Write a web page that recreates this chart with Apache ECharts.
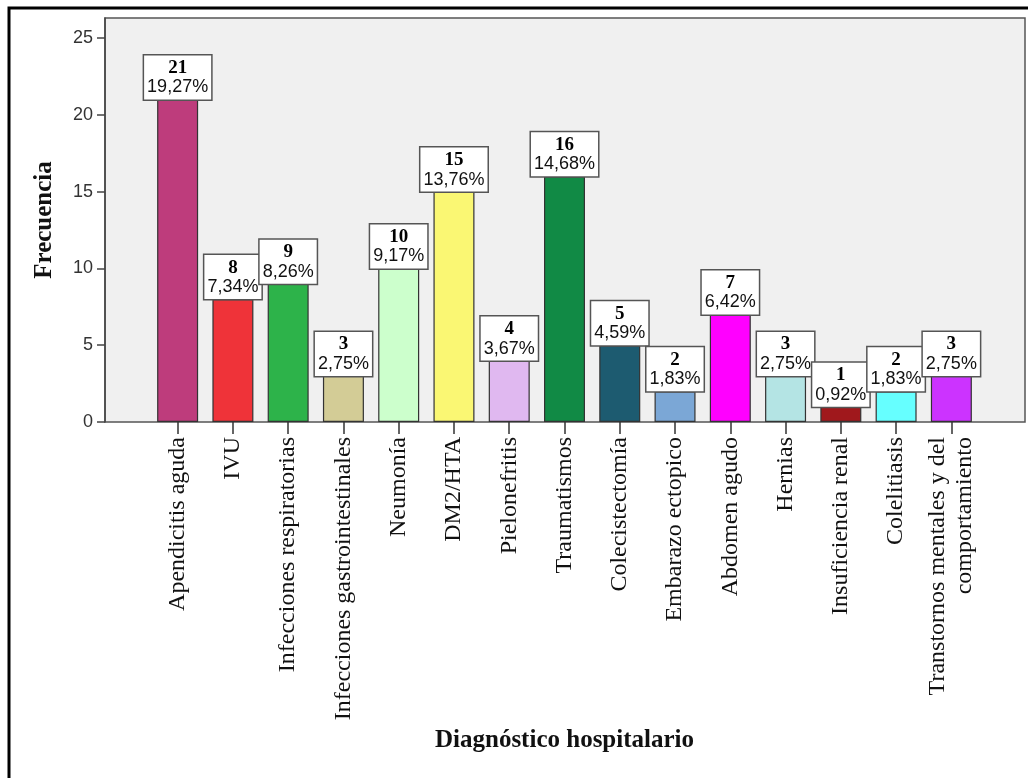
<!DOCTYPE html>
<html lang="es" style="height: 100%">
<head>
    <meta charset="UTF-8">
    <title>Diagnóstico hospitalario</title>
    <script src="https://cdn.jsdelivr.net/npm/echarts@6/dist/echarts.min.js"></script>
</head>
<body style="height: 100%; margin: 0; background: #fff">
<div id="main" style="width: 1028px; height: 778px"></div>
<script>
    var diagnosticos = ['Apendicitis aguda', 'IVU', 'Infecciones respiratorias', 'Infecciones gastrointestinales',
        'Neumonía', 'DM2/HTA', 'Pielonefritis', 'Traumatismos', 'Colecistectomía', 'Embarazo ectopico',
        'Abdomen agudo', 'Hernias', 'Insuficiencia renal', 'Colelitiasis', 'Transtornos mentales y del\ncomportamiento'];
    var frecuencia = [21, 8, 9, 3, 10, 15, 4, 16, 5, 2, 7, 3, 1, 2, 3];
    var porcentaje = ['19,27%', '7,34%', '8,26%', '2,75%', '9,17%', '13,76%', '3,67%', '14,68%',
        '4,59%', '1,83%', '6,42%', '2,75%', '0,92%', '1,83%', '2,75%'];
    var colores = ['#BE3C7C', '#EF3339', '#2DB34A', '#D3CC96', '#CCFFCC', '#FAF773', '#E0B8F0', '#118A45',
        '#1D5B70', '#7BA7D6', '#FF00FF', '#B4E4E4', '#A0181C', '#66FFFF', '#CC33FF'];
    var yTicks = [0, 5, 10, 15, 20, 25];

    var barras = frecuencia.map(function (v, i) {
        return {value: v, itemStyle: {color: colores[i]}};
    });

    var option = {
        animation: false,
        graphic: [{
            type: 'rect',
            shape: {x: 9, y: 8, width: 1040, height: 800},
            style: {fill: 'none', stroke: '#000', lineWidth: 3},
            silent: true
        }],
        grid: [
            {left: 105, right: 3, top: 18, bottom: 356, show: true,
                backgroundColor: '#F0F0F0', borderColor: '#555', borderWidth: 1.5},
            {left: 150, right: 49, top: 18, bottom: 356}
        ],
        xAxis: [
            {type: 'value', gridIndex: 0, show: false, min: 0, max: 1},
            {
                type: 'category', gridIndex: 1, data: diagnosticos,
                axisLine: {show: false},
                axisTick: {show: true, alignWithLabel: true, length: 12, lineStyle: {color: '#333', width: 1.5}},
                axisLabel: {
                    rotate: 90, interval: 0, margin: 15, color: '#111',
                    fontFamily: 'Liberation Serif', fontSize: 24, lineHeight: 27
                },
                name: 'Diagnóstico hospitalario', nameLocation: 'middle', nameGap: 306,
                nameTextStyle: {fontFamily: 'Liberation Serif', fontWeight: 'bold', fontSize: 25, color: '#111'}
            }
        ],
        yAxis: [
            {
                type: 'value', gridIndex: 0, min: 0, max: 26.3, interval: 5,
                splitLine: {show: false},
                axisLine: {show: true, lineStyle: {color: '#444', width: 1.5}},
                axisTick: {show: true, length: 8, lineStyle: {color: '#444', width: 1.5}},
                axisLabel: {
                    showMaxLabel: false, margin: 12, color: '#333',
                    fontFamily: 'Liberation Sans', fontSize: 18,
                    formatter: function (v) { return yTicks.indexOf(v) >= 0 ? v : ''; }
                },
                name: 'Frecuencia', nameLocation: 'middle', nameGap: 48,
                nameTextStyle: {fontFamily: 'Liberation Serif', fontWeight: 'bold', fontSize: 25, color: '#111'}
            },
            {type: 'value', gridIndex: 1, min: 0, max: 26.3, interval: 5, show: false, splitLine: {show: false}}
        ],
        series: [{
            type: 'bar',
            xAxisIndex: 1,
            yAxisIndex: 1,
            barWidth: 41,
            data: barras,
            itemStyle: {borderColor: '#333', borderWidth: 1.2},
            label: {
                show: true,
                position: 'top',
                distance: 0,
                backgroundColor: '#fff',
                borderColor: '#555',
                borderWidth: 1.5,
                padding: [3, 3, 2, 3],
                formatter: function (p) {
                    return '{a|' + frecuencia[p.dataIndex] + '}\n{b|' + porcentaje[p.dataIndex] + '}';
                },
                rich: {
                    a: {fontFamily: 'Liberation Serif', fontWeight: 'bold', fontSize: 19, color: '#000',
                        lineHeight: 19, align: 'center'},
                    b: {fontFamily: 'Liberation Sans', fontSize: 18, color: '#111', lineHeight: 20, align: 'center'}
                }
            }
        }]
    };

    var myChart = echarts.init(document.getElementById('main'));
    myChart.setOption(option);
</script>
</body>
</html>
